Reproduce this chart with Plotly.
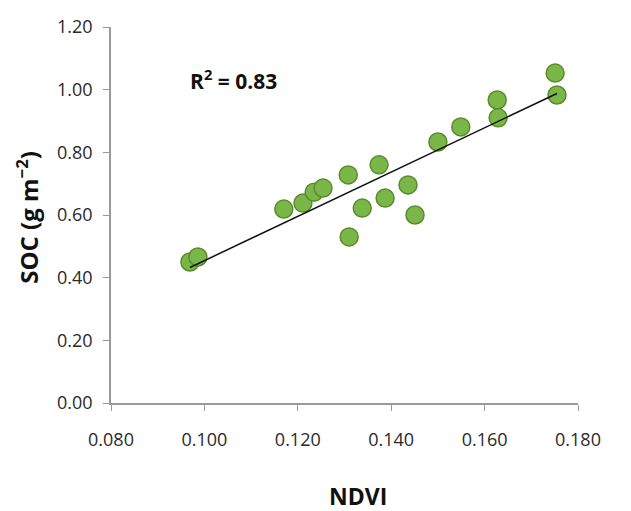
import numpy as np
import plotly.graph_objects as go

ndvi = [0.0969, 0.0986, 0.1170, 0.1211, 0.1235, 0.1254, 0.1308, 0.1310, 0.1338, 0.1374,
        0.1387, 0.1436, 0.1451, 0.1500, 0.1549, 0.1627, 0.1629, 0.1751, 0.1755]
soc = [0.450, 0.466, 0.619, 0.638, 0.673, 0.686, 0.728, 0.530, 0.622, 0.760,
       0.654, 0.696, 0.600, 0.833, 0.881, 0.967, 0.910, 1.053, 0.983]
x_ticks = [0.08, 0.10, 0.12, 0.14, 0.16, 0.18]
y_ticks = [0.0, 0.2, 0.4, 0.6, 0.8, 1.0, 1.2]
r2_label = "<b>R<sup>2</sup> = 0.83</b>"
x_title = "<b>NDVI</b>"
y_title = "<b>SOC (g m<sup>−2</sup>)</b>"

slope, intercept = np.polyfit(ndvi, soc, 1)
xl = [min(ndvi), max(ndvi)]
yl = [slope * v + intercept for v in xl]

font_family = "Open Sans, Liberation Sans, sans-serif"

fig = go.Figure()
fig.add_trace(go.Scatter(
    x=ndvi, y=soc, mode="markers",
    marker=dict(size=18, color="#7ab648", line=dict(color="#5b8c2a", width=1.5)),
    showlegend=False, hoverinfo="skip"))
fig.add_trace(go.Scatter(
    x=xl, y=yl, mode="lines", line=dict(color="#111111", width=1.5),
    showlegend=False, hoverinfo="skip"))

fig.add_annotation(x=0.0965, y=1.034, xref="x", yref="y", text=r2_label,
                   showarrow=False, xanchor="left", yanchor="middle",
                   font=dict(family=font_family, size=21, color="#111111"))
fig.add_annotation(x=0.529, y=-0.247, xref="paper", yref="paper", text=x_title,
                   showarrow=False, xanchor="center", yanchor="middle",
                   font=dict(family=font_family, size=23, color="#111111"))
fig.add_annotation(x=-0.178, y=0.495, xref="paper", yref="paper", text=y_title,
                   showarrow=False, xanchor="center", yanchor="middle", textangle=-90,
                   font=dict(family=font_family, size=24, color="#111111"))

axis_common = dict(showgrid=False, zeroline=False, showline=True, linecolor="#999999",
                   linewidth=1.5, ticks="outside", ticklen=6, tickcolor="#999999",
                   automargin=False,
                   tickfont=dict(family=font_family, size=18, color="#2a2a2a"))

fig.update_xaxes(range=[0.08, 0.18], tickvals=x_ticks, ticklabelstandoff=14,
                 ticktext=[f"{v:.3f}" for v in x_ticks], **axis_common)
fig.update_yaxes(range=[0, 1.2], tickvals=y_ticks, ticklabelstandoff=7,
                 ticktext=[f"{v:.2f}" for v in y_ticks], **axis_common)

fig.update_layout(width=631, height=511, margin=dict(l=103, r=61, t=19, b=116),
                  plot_bgcolor="white", paper_bgcolor="white")

fig.write_html("out.html")
